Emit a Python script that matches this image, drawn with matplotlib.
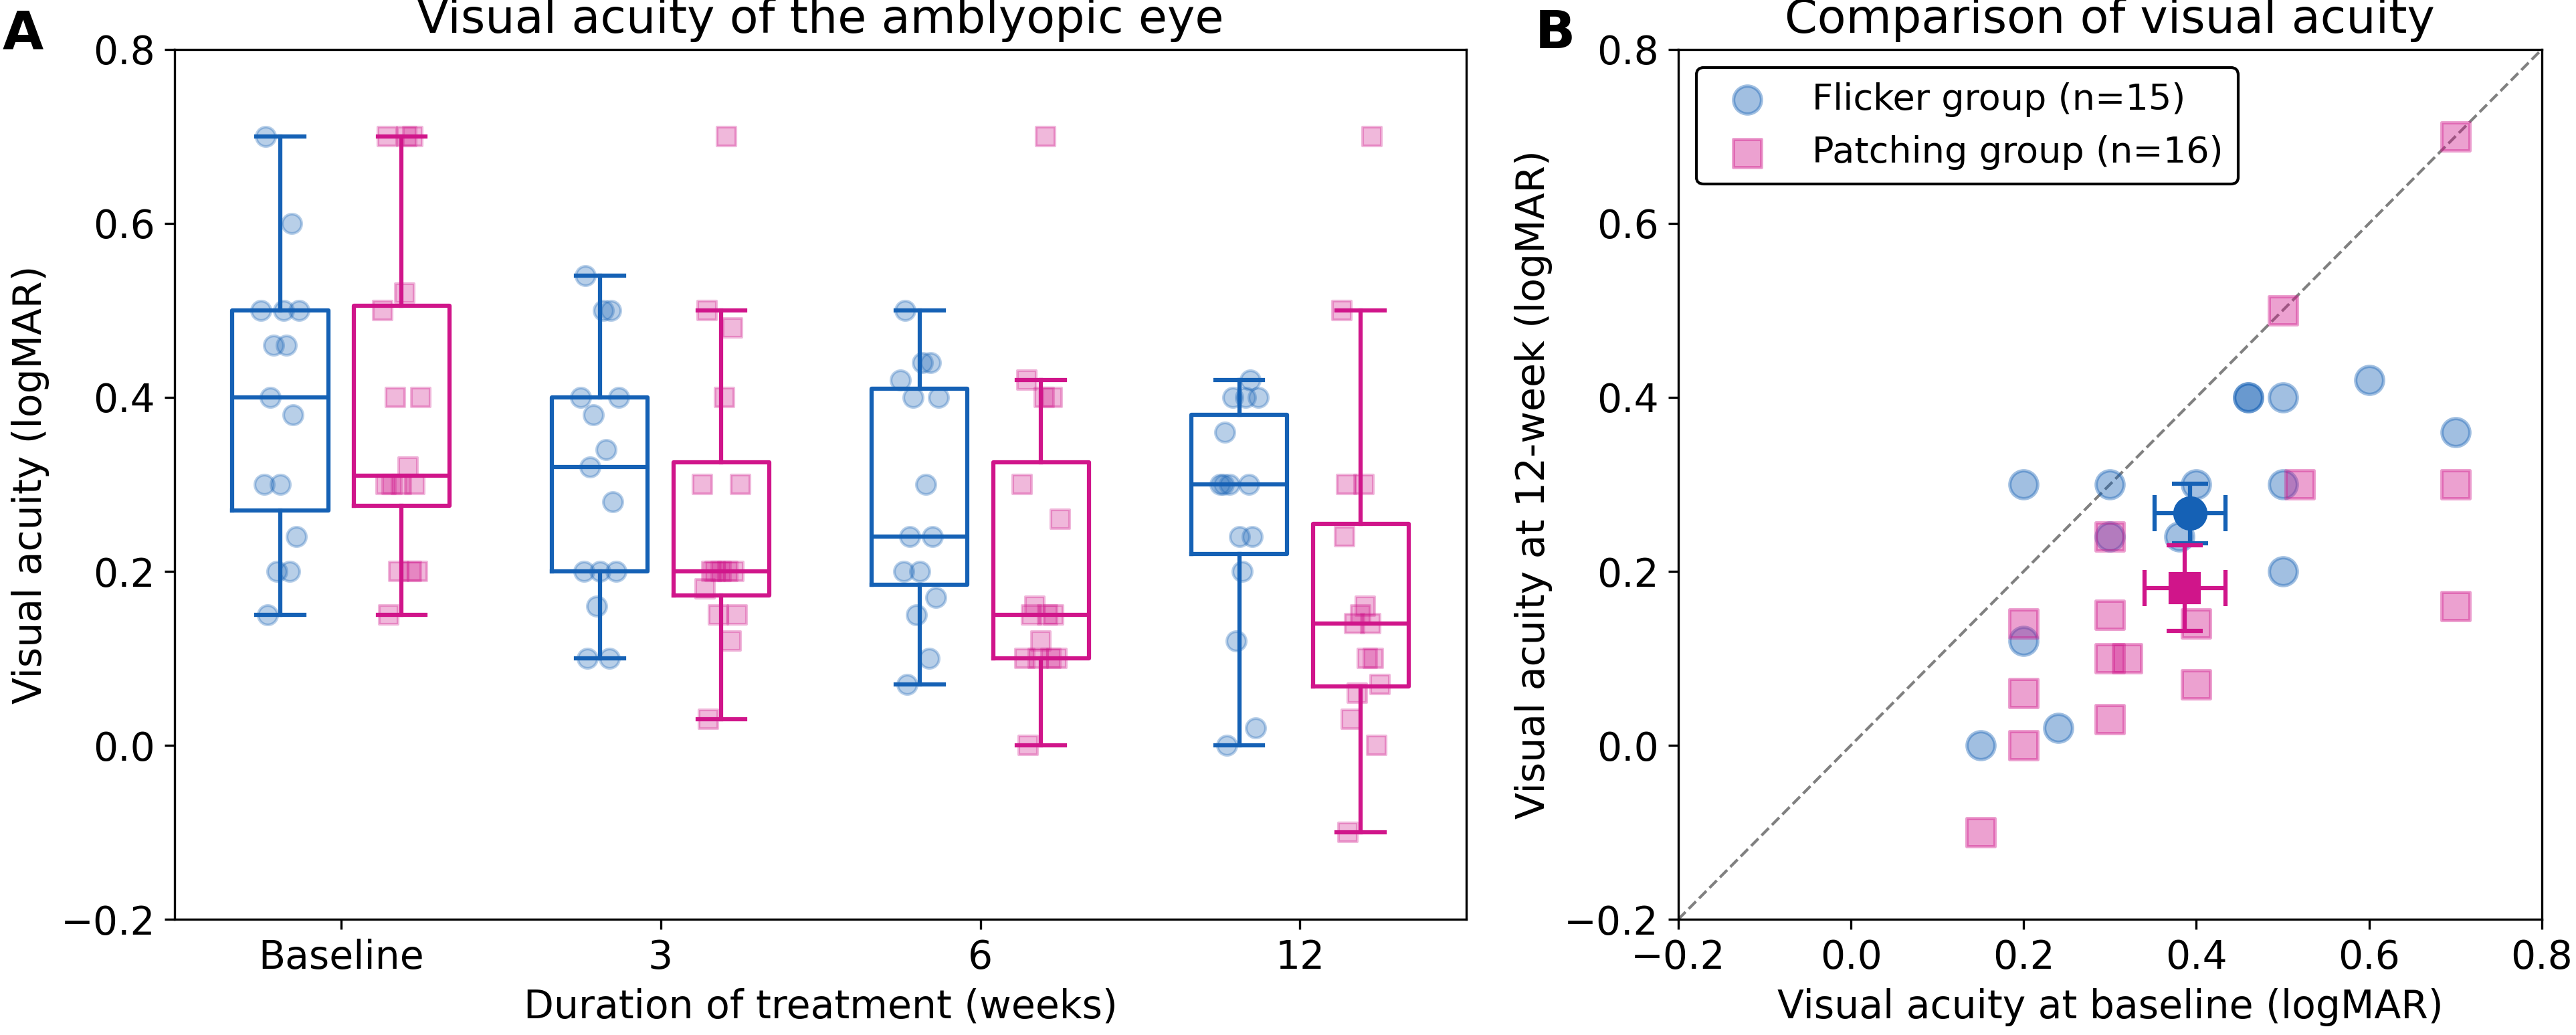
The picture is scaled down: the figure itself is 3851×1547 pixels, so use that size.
import numpy as np
import matplotlib
matplotlib.use("Agg")
import matplotlib.pyplot as plt

# ---------------- data ----------------
categories = ["Baseline", "3", "6", "12"]

flicker_base = [0.15, 0.20, 0.20, 0.24, 0.30, 0.30, 0.38, 0.40, 0.46, 0.46, 0.50, 0.50, 0.50, 0.60, 0.70]
flicker_w3 = [0.10, 0.10, 0.16, 0.20, 0.20, 0.20, 0.28, 0.32, 0.34, 0.38, 0.40, 0.40, 0.50, 0.50, 0.54]
flicker_w6 = [0.07, 0.10, 0.15, 0.17, 0.20, 0.20, 0.24, 0.24, 0.30, 0.40, 0.40, 0.42, 0.44, 0.44, 0.50]
flicker_w12 = [0.00, 0.30, 0.12, 0.02, 0.30, 0.24, 0.24, 0.30, 0.40, 0.40, 0.40, 0.30, 0.20, 0.42, 0.36]

patch_base = [0.15, 0.20, 0.20, 0.20, 0.30, 0.30, 0.30, 0.30, 0.32, 0.40, 0.40, 0.50, 0.52, 0.70, 0.70, 0.70]
patch_w3 = [0.03, 0.12, 0.15, 0.15, 0.18, 0.20, 0.20, 0.20, 0.20, 0.20, 0.30, 0.30, 0.40, 0.48, 0.50, 0.70]
patch_w6 = [0.00, 0.10, 0.10, 0.10, 0.10, 0.12, 0.15, 0.15, 0.15, 0.16, 0.26, 0.30, 0.40, 0.40, 0.42, 0.70]
patch_w12 = [-0.10, 0.14, 0.06, 0.00, 0.24, 0.15, 0.10, 0.03, 0.10, 0.14, 0.07, 0.50, 0.30, 0.70, 0.30, 0.16]

flicker_series = [flicker_base, flicker_w3, flicker_w6, flicker_w12]
patch_series = [patch_base, patch_w3, patch_w6, patch_w12]

legend_labels = ["Flicker group (n=15)", "Patching group (n=16)"]

# ---------------- style ----------------
BLUE = "#1561b5"
PINK = "#d0158a"
plt.rcParams["font.family"] = ["DejaVu Sans"]
plt.rcParams["font.size"] = 14

OFFSET = 0.19
BOXW = 0.30
JIT = [-0.04, 0.03, -0.01, 0.05, -0.05, 0.0, 0.04, -0.03, 0.02, -0.02, 0.06, -0.06, 0.01, 0.035, -0.045, 0.015]

fig = plt.figure(figsize=(3851 / 300, 1547 / 300), dpi=300)
axA = fig.add_axes([0.0678, 0.1118, 0.5014, 0.8404])
axB = fig.add_axes([0.6515, 0.1118, 0.3352, 0.8404])

# ---------------- panel A ----------------
def draw_boxes(ax, series, shift, color, marker):
    pos = [i + shift for i in range(len(series))]
    lw = 1.5
    ax.boxplot(series, positions=pos, widths=BOXW, showfliers=False,
               patch_artist=False, manage_ticks=False,
               boxprops=dict(color=color, linewidth=lw),
               whiskerprops=dict(color=color, linewidth=lw),
               capprops=dict(color=color, linewidth=lw),
               medianprops=dict(color=color, linewidth=lw),
               zorder=2)
    for p, vals in zip(pos, series):
        xs = [p + JIT[k % len(JIT)] for k in range(len(vals))]
        ax.scatter(xs, vals, s=48, marker=marker, color=color, alpha=0.3,
                   linewidths=1.0, zorder=3)

draw_boxes(axA, flicker_series, -OFFSET, BLUE, "o")
draw_boxes(axA, patch_series, OFFSET, PINK, "s")

axA.set_xlim(-0.52, 3.52)
axA.set_ylim(-0.2, 0.8)
axA.set_xticks(range(len(categories)))
axA.set_xticklabels(categories)
axA.set_yticks(np.arange(-0.2, 0.81, 0.2))
axA.set_title("Visual acuity of the amblyopic eye")
axA.set_xlabel("Duration of treatment (weeks)")
axA.set_ylabel("Visual acuity (logMAR)")

# ---------------- panel B ----------------
axB.plot([-0.2, 0.8], [-0.2, 0.8], ls="--", color="gray", lw=1.0, zorder=1)
axB.scatter(flicker_base, flicker_w12, s=100, marker="o", color=BLUE, alpha=0.4,
            linewidths=1.2, zorder=3, label=legend_labels[0])
axB.scatter(patch_base, patch_w12, s=100, marker="s", color=PINK, alpha=0.4,
            linewidths=1.2, zorder=3, label=legend_labels[1])

def mean_sem(v):
    a = np.asarray(v, dtype=float)
    return a.mean(), a.std(ddof=1) / np.sqrt(len(a))

for xb, yw, color, marker, ms in [(flicker_base, flicker_w12, BLUE, "o", 11.3),
                                  (patch_base, patch_w12, PINK, "s", 10.5)]:
    mx, sx = mean_sem(xb)
    my, sy = mean_sem(yw)
    axB.errorbar([mx], [my], xerr=[sx], yerr=[sy], fmt=marker, color=color,
                 ms=ms, elinewidth=1.5, capsize=6.5, capthick=1.5, zorder=5)

axB.set_xlim(-0.2, 0.8)
axB.set_ylim(-0.2, 0.8)
axB.set_xticks(np.arange(-0.2, 0.81, 0.2))
axB.set_yticks(np.arange(-0.2, 0.81, 0.2))
axB.set_title("Comparison of visual acuity")
axB.set_xlabel("Visual acuity at baseline (logMAR)")
axB.set_ylabel("Visual acuity at 12-week (logMAR)")
leg = axB.legend(loc="upper left", fontsize=13, framealpha=1.0)
leg.get_frame().set_edgecolor("black")

# panel letters
fig.text(0.001, 0.992, "A", fontsize=19, fontweight="bold", va="top", ha="left")
fig.text(0.596, 0.992, "B", fontsize=19, fontweight="bold", va="top", ha="left")

fig.savefig("out.png", dpi=300)
